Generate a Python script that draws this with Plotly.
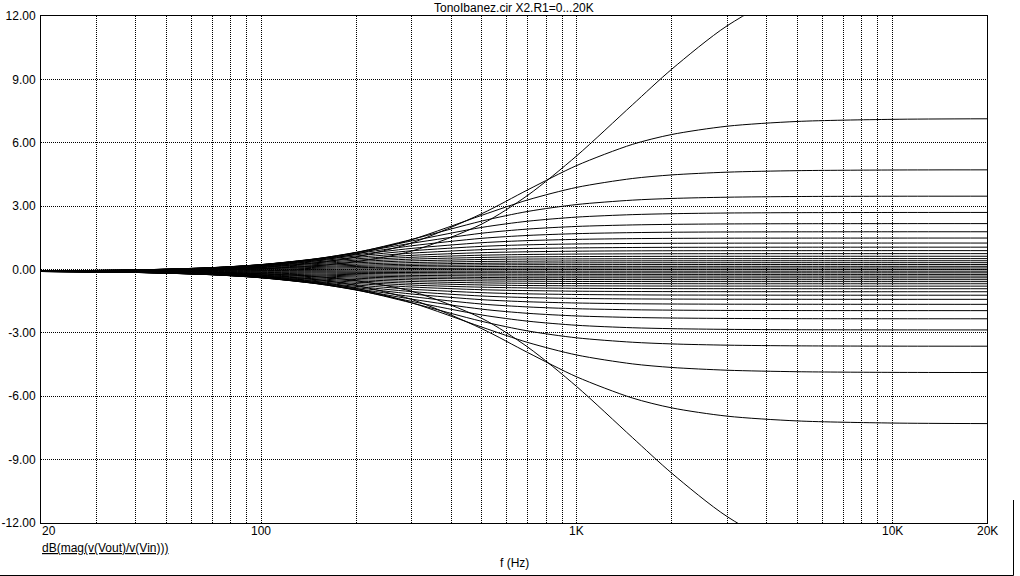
import math
import plotly.graph_objects as go

# ---------------- data ----------------
freqs = [20, 40, 70, 100, 150, 200, 300, 500, 700, 1000, 1500, 2000, 3000, 5000, 10000, 20000]

# boost-side curves (outermost first), dB
boost_db = [
    [-0.075, -0.061, -0.022, 0.038, 0.180, 0.372, 0.874, 2.153, 3.518, 5.383, 7.790, 9.479, 11.538, 13.298, 14.368, 14.686],
    [-0.072, -0.050, 0.012, 0.104, 0.320, 0.596, 1.259, 2.644, 3.775, 4.923, 5.921, 6.390, 6.783, 7.008, 7.108, 7.134],
    [-0.070, -0.040, 0.039, 0.156, 0.418, 0.734, 1.417, 2.566, 3.296, 3.888, 4.307, 4.477, 4.608, 4.679, 4.710, 4.717],
    [-0.068, -0.033, 0.060, 0.193, 0.479, 0.801, 1.425, 2.294, 2.750, 3.075, 3.283, 3.363, 3.422, 3.454, 3.468, 3.471],
    [-0.067, -0.027, 0.074, 0.218, 0.509, 0.817, 1.353, 1.993, 2.287, 2.481, 2.597, 2.641, 2.674, 2.691, 2.699, 2.701],
    [-0.066, -0.024, 0.084, 0.231, 0.516, 0.797, 1.245, 1.718, 1.915, 2.039, 2.110, 2.137, 2.157, 2.167, 2.172, 2.173],
    [-0.065, -0.021, 0.089, 0.235, 0.504, 0.754, 1.123, 1.476, 1.613, 1.697, 1.746, 1.764, 1.777, 1.783, 1.786, 1.787],
    [-0.065, -0.020, 0.090, 0.231, 0.480, 0.699, 1.000, 1.268, 1.368, 1.426, 1.461, 1.473, 1.482, 1.486, 1.488, 1.489],
    [-0.065, -0.020, 0.088, 0.222, 0.450, 0.640, 0.887, 1.095, 1.169, 1.210, 1.232, 1.240, 1.247, 1.250, 1.252, 1.252],
    [-0.065, -0.022, 0.082, 0.207, 0.411, 0.573, 0.776, 0.937, 0.993, 1.023, 1.042, 1.049, 1.053, 1.056, 1.057, 1.057],
    [-0.065, -0.024, 0.073, 0.187, 0.367, 0.505, 0.670, 0.797, 0.839, 0.867, 0.882, 0.887, 0.890, 0.892, 0.893, 0.893],
    [-0.066, -0.027, 0.062, 0.166, 0.324, 0.441, 0.577, 0.677, 0.711, 0.731, 0.742, 0.746, 0.749, 0.750, 0.751, 0.751],
    [-0.067, -0.031, 0.051, 0.144, 0.281, 0.379, 0.491, 0.571, 0.599, 0.612, 0.620, 0.623, 0.625, 0.626, 0.627, 0.627],
    [-0.068, -0.036, 0.037, 0.119, 0.236, 0.318, 0.408, 0.473, 0.494, 0.503, 0.510, 0.512, 0.514, 0.515, 0.515, 0.515],
    [-0.070, -0.041, 0.022, 0.091, 0.188, 0.255, 0.328, 0.379, 0.394, 0.406, 0.411, 0.413, 0.414, 0.415, 0.415, 0.415],
    [-0.071, -0.047, 0.006, 0.063, 0.142, 0.196, 0.253, 0.293, 0.305, 0.315, 0.319, 0.320, 0.321, 0.322, 0.322, 0.322],
    [-0.073, -0.053, -0.009, 0.037, 0.100, 0.142, 0.187, 0.217, 0.228, 0.230, 0.233, 0.234, 0.235, 0.235, 0.235, 0.235],
    [-0.074, -0.059, -0.026, 0.008, 0.055, 0.086, 0.119, 0.141, 0.147, 0.148, 0.150, 0.151, 0.152, 0.152, 0.152, 0.152],
    [-0.076, -0.067, -0.045, -0.023, 0.007, 0.027, 0.047, 0.061, 0.068, 0.071, 0.072, 0.073, 0.073, 0.073, 0.073, 0.073],
    [-0.078, -0.073, -0.062, -0.051, -0.036, -0.026, -0.016, -0.009, -0.006, -0.005, -0.004, -0.004, -0.004, -0.004, -0.004, -0.004],
]

# mid-position curve, dB
flat_db = [-0.080, -0.080, -0.080, -0.080, -0.080, -0.080, -0.080, -0.080, -0.080, -0.080, -0.080, -0.080, -0.080, -0.080, -0.080, -0.080]

# cut-side curves (outermost first), dB
cut_db = [
    [-0.085, -0.099, -0.138, -0.198, -0.340, -0.532, -1.034, -2.313, -3.678, -5.543, -7.950, -9.639, -11.698, -13.458, -14.528, -14.846],
    [-0.088, -0.110, -0.172, -0.264, -0.480, -0.756, -1.419, -2.804, -3.935, -5.083, -6.081, -6.550, -6.943, -7.168, -7.268, -7.294],
    [-0.090, -0.120, -0.199, -0.316, -0.578, -0.894, -1.577, -2.726, -3.456, -4.048, -4.467, -4.637, -4.768, -4.839, -4.870, -4.877],
    [-0.092, -0.127, -0.220, -0.353, -0.639, -0.961, -1.585, -2.454, -2.910, -3.235, -3.443, -3.523, -3.582, -3.614, -3.628, -3.631],
    [-0.093, -0.133, -0.234, -0.378, -0.669, -0.977, -1.513, -2.153, -2.447, -2.641, -2.757, -2.801, -2.834, -2.851, -2.859, -2.861],
    [-0.094, -0.136, -0.244, -0.391, -0.676, -0.957, -1.405, -1.878, -2.075, -2.199, -2.270, -2.297, -2.317, -2.327, -2.332, -2.333],
    [-0.095, -0.139, -0.249, -0.395, -0.664, -0.914, -1.283, -1.636, -1.773, -1.857, -1.906, -1.924, -1.937, -1.943, -1.946, -1.947],
    [-0.095, -0.140, -0.250, -0.391, -0.640, -0.859, -1.160, -1.428, -1.528, -1.586, -1.621, -1.633, -1.642, -1.646, -1.648, -1.649],
    [-0.095, -0.140, -0.248, -0.382, -0.610, -0.800, -1.047, -1.255, -1.329, -1.370, -1.392, -1.400, -1.407, -1.410, -1.412, -1.412],
    [-0.095, -0.138, -0.242, -0.367, -0.571, -0.733, -0.936, -1.097, -1.153, -1.183, -1.202, -1.209, -1.213, -1.216, -1.217, -1.217],
    [-0.095, -0.136, -0.233, -0.347, -0.527, -0.665, -0.830, -0.957, -0.999, -1.027, -1.042, -1.047, -1.050, -1.052, -1.053, -1.053],
    [-0.094, -0.133, -0.222, -0.326, -0.484, -0.601, -0.737, -0.837, -0.871, -0.891, -0.902, -0.906, -0.909, -0.910, -0.911, -0.911],
    [-0.093, -0.129, -0.211, -0.304, -0.441, -0.539, -0.651, -0.731, -0.759, -0.772, -0.780, -0.783, -0.785, -0.786, -0.787, -0.787],
    [-0.092, -0.124, -0.197, -0.279, -0.396, -0.478, -0.568, -0.633, -0.654, -0.663, -0.670, -0.672, -0.674, -0.675, -0.675, -0.675],
    [-0.090, -0.119, -0.182, -0.251, -0.348, -0.415, -0.488, -0.539, -0.554, -0.566, -0.571, -0.573, -0.574, -0.575, -0.575, -0.575],
    [-0.089, -0.113, -0.166, -0.223, -0.302, -0.356, -0.413, -0.453, -0.465, -0.475, -0.479, -0.480, -0.481, -0.482, -0.482, -0.482],
    [-0.087, -0.107, -0.151, -0.197, -0.260, -0.302, -0.347, -0.377, -0.388, -0.390, -0.393, -0.394, -0.395, -0.395, -0.395, -0.395],
    [-0.086, -0.101, -0.134, -0.168, -0.215, -0.246, -0.279, -0.301, -0.307, -0.308, -0.310, -0.311, -0.312, -0.312, -0.312, -0.312],
    [-0.084, -0.093, -0.115, -0.137, -0.167, -0.187, -0.207, -0.221, -0.228, -0.231, -0.232, -0.233, -0.233, -0.233, -0.233, -0.233],
    [-0.082, -0.087, -0.098, -0.109, -0.124, -0.134, -0.144, -0.151, -0.154, -0.155, -0.156, -0.156, -0.156, -0.156, -0.156, -0.156],
]

x_tick_vals = [20, 100, 1000, 10000, 20000]
x_tick_text = ["20", "100", "1K", "10K", "20K"]
x_grid_vals = [30, 40, 50, 60, 70, 80, 90, 100,
               200, 300, 400, 500, 600, 700, 800, 900, 1000,
               2000, 3000, 4000, 5000, 6000, 7000, 8000, 9000, 10000]
y_tick_vals = [-12, -9, -6, -3, 0, 3, 6, 9, 12]
y_tick_text = ["-12.00", "-9.00", "-6.00", "-3.00", "0.00", "3.00", "6.00", "9.00", "12.00"]

title_text = "TonoIbanez.cir X2.R1=0...20K"
y_label = "dB(mag(v(Vout)/v(Vin)))"
x_label = "f (Hz)"

# ---------------- figure ----------------
FONT = "Liberation Sans, Arial, sans-serif"
W, H = 1020, 576
PLOT_L, PLOT_R, PLOT_T, PLOT_B = 41, 987, 16, 523   # pixels of the plot frame
L, T = PLOT_L, PLOT_T
R, B = W - PLOT_R, H - PLOT_B
PW, PH = W - L - R, H - T - B


def py(ypx):
    """y pixel -> paper coordinate"""
    return (PLOT_B - ypx) / PH


def px(xpx):
    """x pixel -> paper coordinate"""
    return (xpx - PLOT_L) / PW


fig = go.Figure()
for row in boost_db + [flat_db] + cut_db:
    fig.add_trace(go.Scatter(
        x=freqs, y=row, mode="lines",
        line=dict(color="black", width=1, shape="spline", smoothing=0.8),
        hoverinfo="skip", showlegend=False,
    ))

grid_style = dict(showgrid=True, gridcolor="black", gridwidth=1, griddash="1px,1px")

fig.update_xaxes(
    type="log",
    range=[math.log10(20), math.log10(20000)],
    tickmode="array", tickvals=x_grid_vals,
    showticklabels=False, ticks="",
    showline=True, linecolor="black", linewidth=1, mirror=True,
    zeroline=False, automargin=False,
    **grid_style,
)
fig.update_yaxes(
    range=[-12, 12],
    tickmode="array", tickvals=y_tick_vals, ticktext=y_tick_text,
    ticks="", ticklabelstandoff=2,
    tickfont=dict(family=FONT, size=12, color="black"),
    showline=True, linecolor="black", linewidth=1, mirror=True,
    zeroline=False, automargin=False,
    **grid_style,
)

annotations = []
annotations.append(dict(text=title_text, xref="paper", yref="paper", x=0.5, y=py(7.5),
                        xanchor="center", yanchor="middle", showarrow=False,
                        font=dict(family=FONT, size=12, color="black"), borderpad=0))
for v, t in zip(x_tick_vals, x_tick_text):
    anchor = "left" if v == x_tick_vals[0] else "center"
    annotations.append(dict(text=t, xref="x", yref="paper", x=math.log10(v), y=py(531),
                            xanchor=anchor, yanchor="middle", showarrow=False,
                            font=dict(family=FONT, size=12, color="black"), borderpad=0))
annotations.append(dict(text="<span style='text-decoration:underline'>" + y_label + "</span>",
                        xref="paper", yref="paper", x=px(41), y=py(548),
                        xanchor="left", yanchor="middle", showarrow=False,
                        font=dict(family=FONT, size=12, color="black"), borderpad=0))
annotations.append(dict(text=x_label, xref="paper", yref="paper", x=px(514), y=py(563),
                        xanchor="center", yanchor="middle", showarrow=False,
                        font=dict(family=FONT, size=12, color="black"), borderpad=0))

shapes = [
    dict(type="line", xref="paper", yref="paper", x0=px(0), x1=px(1013.5), y0=py(575.5), y1=py(575.5),
         line=dict(color="black", width=1)),
    dict(type="line", xref="paper", yref="paper", x0=px(1013.5), x1=px(1013.5), y0=py(500), y1=py(575.5),
         line=dict(color="black", width=1)),
]

fig.update_layout(
    width=W, height=H,
    margin=dict(l=L, r=R, t=T, b=B, pad=0, autoexpand=False),
    paper_bgcolor="white", plot_bgcolor="white",
    showlegend=False,
    annotations=annotations,
    shapes=shapes,
    font=dict(family=FONT, size=12, color="black"),
)

# remove the browser's default 8px page margin so the figure fills the window
fig.write_html("out.html", config={"displayModeBar": False, "staticPlot": True},
               post_script="document.body.style.margin='0';document.body.style.overflow='hidden';")
